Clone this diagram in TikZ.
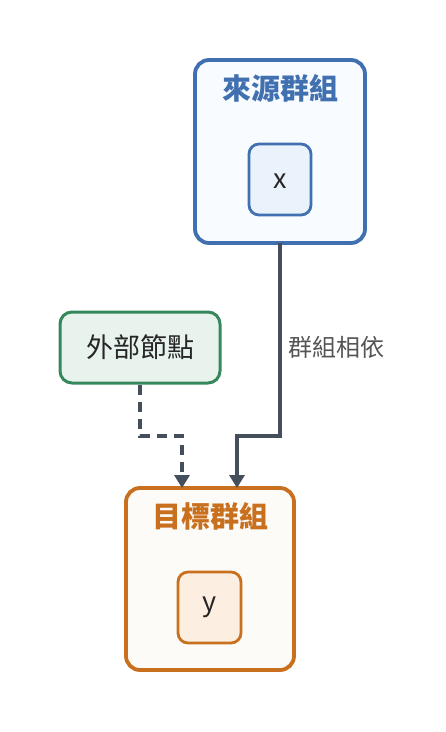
\documentclass[tikz,border=0pt]{standalone}
\usepackage{fontspec}
\setmainfont{Noto Sans CJK TC}
\usetikzlibrary{arrows.meta}
\definecolor{srcblue}{HTML}{4170B0}
\definecolor{srcfill}{HTML}{F8FBFF}
\definecolor{srcinner}{HTML}{EAF2FB}
\definecolor{tgtorange}{HTML}{C8701E}
\definecolor{tgtfill}{HTML}{FDFBF8}
\definecolor{tgtinner}{HTML}{FCEFE2}
\definecolor{extgreen}{HTML}{35875C}
\definecolor{extfill}{HTML}{E8F3EE}
\definecolor{edgegray}{HTML}{454F5B}
\definecolor{labgray}{HTML}{555555}
\tikzset{
  groupbox/.style={draw=#1, line width=3.8pt, rounded corners=14pt},
  innerbox/.style={draw=#1, line width=2.8pt, rounded corners=10pt},
  titletext/.style={font=\fontsize{29}{32}\selectfont\bfseries},
  nodetext/.style={font=\fontsize{27}{30}\selectfont, text=black!85},
  edge/.style={draw=edgegray, line width=3.5pt, -{Triangle[length=13pt,width=15pt]}},
}
\begin{document}
\begin{tikzpicture}[x=1pt,y=-1pt]
\useasboundingbox (0,0) rectangle (446,732);
% source group
\draw[groupbox=srcblue, fill=srcfill] (195,60) rectangle (365,243);
\node[titletext, text=srcblue] (srct) at (280,88) {來源群組};
\draw[innerbox=srcblue, fill=srcinner] (249,144) rectangle (311,215);
\node[nodetext] (x) at (280,181) {x};
\coordinate (srcbot) at (280,243);
% target group
\draw[groupbox=tgtorange, fill=tgtfill] (126,488) rectangle (294,670);
\node[titletext, text=tgtorange] (tgtt) at (210,516) {目標群組};
\draw[innerbox=tgtorange, fill=tgtinner] (178,572) rectangle (241,643);
\node[nodetext] (y) at (210,607) {y};
\coordinate (tgtA) at (237,488);
\coordinate (tgtB) at (182,488);
% external node
\node[draw=extgreen, fill=extfill, line width=3pt, rounded corners=12pt,
      minimum width=160pt, minimum height=71pt, inner sep=0pt,
      font=\fontsize{27}{30}\selectfont, text=black!85] (ext) at (140,347.5) {外部節點};
% edges
\draw[edge] (srcbot) -- (280,436) -- (237,436) -- (tgtA);
\draw[edge, dash pattern=on 10pt off 7pt] (ext.south) -- (140,436) -- (182,436) -- (tgtB);
\node[font=\fontsize{24}{27}\selectfont, text=labgray] (lab) at (336,347) {群組相依};
\end{tikzpicture}
\end{document}
